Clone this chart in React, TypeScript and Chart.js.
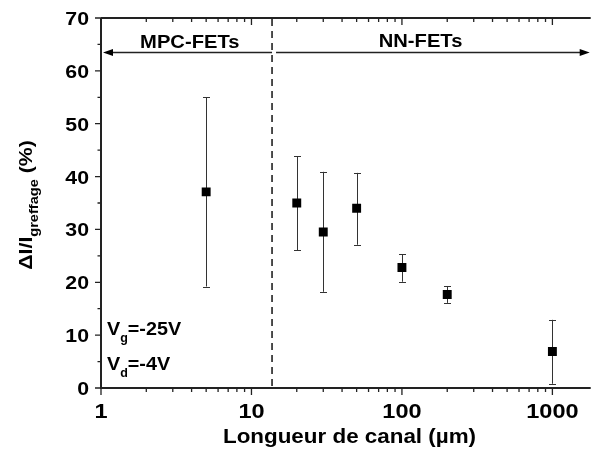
import React, { useEffect, useRef } from "react";
import { Chart, registerables } from "chart.js";

Chart.register(...registerables);

const channelLengths = [5, 20, 30, 50, 100, 200, 1000];
const deltaI = [37.1, 35.0, 29.5, 34.0, 22.8, 17.7, 6.9];
const errLow = [19.2, 26.1, 18.2, 27.1, 20.1, 16.1, 0.8];
const errHigh = [55.0, 43.8, 40.9, 40.7, 25.3, 19.3, 12.9];
const yTicks = [0, 10, 20, 30, 40, 50, 60, 70];
const yMinorTicks = [5, 15, 25, 35, 45, 55, 65];
const xTicks = [1, 10, 100, 1000];
const xMinorTicks = [2, 3, 4, 5, 6, 7, 8, 9, 20, 30, 40, 50, 60, 70, 80, 90, 200, 300, 400, 500, 600, 700, 800, 900];
const boundaryX = 13.7;
const arrowY = 63.6;
const regionLabels = ["MPC-FETs", "NN-FETs"];
const regionLabelX = [3.89, 133];
const regionLabelY = [64.3, 64.5];

const FONT = "'Liberation Sans', Arial, sans-serif";
const SX = 1.12;

function stretchText(ctx: any, text: string, x: number, y: number, align: string, sx: number = SX) {
  const w = ctx.measureText(text).width * sx;
  let x0 = x;
  if (align === "center") x0 = x - w / 2;
  else if (align === "right") x0 = x - w;
  ctx.save();
  ctx.textAlign = "left";
  ctx.translate(x0, y);
  ctx.scale(sx, 1);
  ctx.fillText(text, 0, 0);
  ctx.restore();
  return w;
}

const drawPlugin = {
  id: "customAxes",
  beforeDatasetsDraw(chart: any) {
    const ctx = chart.ctx;
    const xs = chart.scales.x;
    const ys = chart.scales.y;
    ctx.save();
    ctx.strokeStyle = "#333";
    ctx.lineWidth = 1;
    for (let i = 0; i < channelLengths.length; i++) {
      const px = Math.round(xs.getPixelForValue(channelLengths[i])) + 0.5;
      const top = ys.getPixelForValue(errHigh[i]);
      const bot = ys.getPixelForValue(errLow[i]);
      ctx.beginPath();
      ctx.moveTo(px, top);
      ctx.lineTo(px, bot);
      ctx.moveTo(px - 3.5, Math.round(top) + 0.5);
      ctx.lineTo(px + 3.5, Math.round(top) + 0.5);
      ctx.moveTo(px - 3.5, Math.round(bot) + 0.5);
      ctx.lineTo(px + 3.5, Math.round(bot) + 0.5);
      ctx.stroke();
    }
    ctx.restore();
  },
  afterDraw(chart: any) {
    const ctx = chart.ctx;
    const xs = chart.scales.x;
    const ys = chart.scales.y;
    const { left, right, top, bottom } = chart.chartArea;
    ctx.save();
    ctx.strokeStyle = "#222";
    ctx.fillStyle = "#000";
    ctx.lineWidth = 2;
    ctx.beginPath();
    ctx.moveTo(left, top);
    ctx.lineTo(left, bottom);
    ctx.lineTo(right, bottom);
    ctx.moveTo(left, top);
    ctx.lineTo(right, top);
    ctx.stroke();

    ctx.lineWidth = 1.3;
    ctx.beginPath();
    yTicks.forEach((v) => {
      const py = ys.getPixelForValue(v);
      ctx.moveTo(left, py);
      ctx.lineTo(left - 6, py);
    });
    yMinorTicks.forEach((v) => {
      const py = ys.getPixelForValue(v);
      ctx.moveTo(left, py);
      ctx.lineTo(left - 3.5, py);
    });
    xTicks.forEach((v) => {
      const px = xs.getPixelForValue(v);
      ctx.moveTo(px, bottom);
      ctx.lineTo(px, bottom + 7);
      ctx.moveTo(px, top);
      ctx.lineTo(px, top + 7);
    });
    xMinorTicks.forEach((v) => {
      const px = xs.getPixelForValue(v);
      ctx.moveTo(px, bottom);
      ctx.lineTo(px, bottom + 4);
      ctx.moveTo(px, top);
      ctx.lineTo(px, top + 4);
    });
    ctx.stroke();

    ctx.font = `bold 19px ${FONT}`;
    ctx.textBaseline = "alphabetic";
    yTicks.forEach((v) => {
      stretchText(ctx, String(v), left - 12, ys.getPixelForValue(v) + 7, "right");
    });
    ctx.font = `bold 21px ${FONT}`;
    xTicks.forEach((v) => {
      stretchText(ctx, String(v), xs.getPixelForValue(v), bottom + 30, "center");
    });

    ctx.font = `bold 20px ${FONT}`;
    stretchText(ctx, "Longueur de canal (\u00b5m)", 349.5, 443, "center");

    ctx.save();
    ctx.translate(32, 205);
    ctx.rotate(-Math.PI / 2);
    const main = "\u0394I/I";
    const sub = "greffage";
    const tail = " (%)";
    ctx.font = `bold 19px ${FONT}`;
    const w1 = ctx.measureText(main).width * SX;
    const w3 = ctx.measureText(tail).width * SX;
    ctx.font = `bold 13px ${FONT}`;
    const w2 = ctx.measureText(sub).width * SX;
    const start = -(w1 + w2 + w3) / 2;
    ctx.font = `bold 19px ${FONT}`;
    stretchText(ctx, main, start, 0, "left");
    ctx.font = `bold 13px ${FONT}`;
    stretchText(ctx, sub, start + w1, 6, "left");
    ctx.font = `bold 19px ${FONT}`;
    stretchText(ctx, tail, start + w1 + w2, 0, "left");
    ctx.restore();

    const bx = xs.getPixelForValue(boundaryX);
    ctx.save();
    ctx.lineWidth = 1.6;
    ctx.setLineDash([7, 5]);
    ctx.beginPath();
    ctx.moveTo(bx, top + 1);
    ctx.lineTo(bx, bottom);
    ctx.stroke();
    ctx.restore();

    const ay = Math.round(ys.getPixelForValue(arrowY)) + 0.5;
    ctx.lineWidth = 1.6;
    ctx.beginPath();
    ctx.moveTo(bx, ay);
    ctx.lineTo(left + 8, ay);
    ctx.moveTo(bx + 4, ay);
    ctx.lineTo(right - 8, ay);
    ctx.stroke();
    ctx.beginPath();
    ctx.moveTo(left + 2, ay);
    ctx.lineTo(left + 12, ay - 3.5);
    ctx.lineTo(left + 12, ay + 3.5);
    ctx.closePath();
    ctx.moveTo(right - 1, ay);
    ctx.lineTo(right - 11, ay - 3.5);
    ctx.lineTo(right - 11, ay + 3.5);
    ctx.closePath();
    ctx.fill();

    ctx.font = `bold 18px ${FONT}`;
    regionLabels.forEach((t, i) => {
      stretchText(ctx, t, xs.getPixelForValue(regionLabelX[i]), ys.getPixelForValue(regionLabelY[i]), "center");
    });

    const drawSub = (x: number, y: number, a: string, s: string, b: string) => {
      ctx.font = `bold 19px ${FONT}`;
      const wa = stretchText(ctx, a, x, y, "left", 1.04);
      ctx.font = `bold 12px ${FONT}`;
      const ws = stretchText(ctx, s, x + wa, y + 7, "left", 1.04);
      ctx.font = `bold 19px ${FONT}`;
      stretchText(ctx, b, x + wa + ws, y, "left", 1.04);
    };
    drawSub(107, 335, "V", "g", "=-25V");
    drawSub(107, 370, "V", "d", "=-4V");

    ctx.restore();
  },
};

export default function App() {
  const ref = useRef<HTMLCanvasElement | null>(null);
  useEffect(() => {
    if (!ref.current) return;
    const chart = new Chart(ref.current, {
      type: "scatter",
      data: {
        datasets: [
          {
            data: channelLengths.map((x, i) => ({ x, y: deltaI[i] })),
            pointStyle: "rect",
            pointRadius: 6.3,
            backgroundColor: "#000",
            borderColor: "#000",
            borderWidth: 0,
          },
        ],
      },
      options: {
        responsive: false,
        animation: false,
        devicePixelRatio: 1,
        layout: { padding: { left: 101, top: 18, right: 0, bottom: 63 } },
        plugins: { legend: { display: false }, tooltip: { enabled: false } },
        scales: {
          x: { type: "logarithmic", min: 1, max: 1797, display: false },
          y: { type: "linear", min: 0, max: 70, display: false },
        },
      },
      plugins: [drawPlugin],
    });
    return () => chart.destroy();
  }, []);
  return (
    <canvas
      ref={ref}
      width={597}
      height={451}
      style={{ position: "absolute", left: 0, top: 0, background: "#fff" }}
    />
  );
}
